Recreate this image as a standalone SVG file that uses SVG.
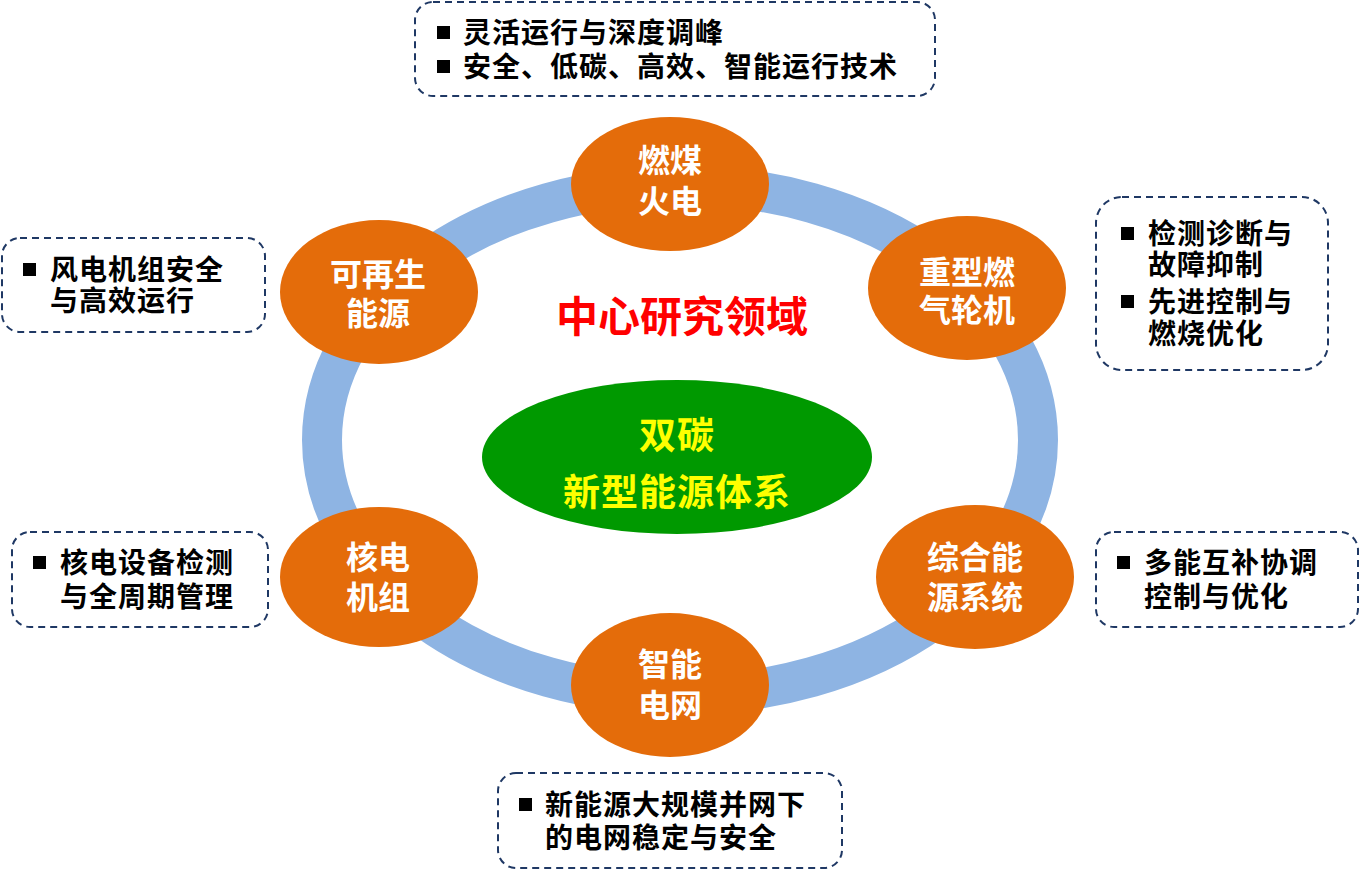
<svg xmlns="http://www.w3.org/2000/svg" width="1360" height="874" viewBox="0 0 1360 874">
<style>
.orb{fill:#E46C0A}
.ot{fill:#fff;font-family:"Noto Sans CJK SC","Noto Sans",sans-serif;font-weight:bold;font-size:32px;text-anchor:middle}
.box{fill:#fff;stroke:#1F3864;stroke-width:2;stroke-dasharray:7,5}
.bt{fill:#000;font-family:"Noto Sans CJK SC","Noto Sans",sans-serif;font-weight:bold;font-size:28px;letter-spacing:1px}
.bul{fill:#000}
.ct{fill:#FFFF00;font-family:"Noto Sans CJK SC","Noto Sans",sans-serif;font-weight:bold;font-size:37px;letter-spacing:1px;text-anchor:middle}
</style>
<rect width="1360" height="874" fill="#fff"/>
<g id="connectors">
<ellipse cx="680" cy="440" rx="358" ry="255" fill="none" stroke="#8EB4E3" stroke-width="40"/>
</g>
<g id="center">
<ellipse cx="677" cy="457" rx="195" ry="77" fill="#009900"/>
<text class="ct" x="677" y="449">双碳</text>
<text class="ct" x="677" y="506">新型能源体系</text>
</g>
<g id="title">
<text x="682" y="332" fill="#FF0000" font-family="Noto Sans CJK SC,sans-serif" font-weight="bold" font-size="42" text-anchor="middle">中心研究领域</text>
</g>
<g id="coal">
<ellipse class="orb" cx="670" cy="184" rx="99" ry="67"/>
<text class="ot" x="670" y="172">燃煤</text>
<text class="ot" x="670" y="213">火电</text>
</g>
<g id="gas">
<ellipse class="orb" cx="967" cy="288" rx="99" ry="72"/>
<text class="ot" x="967" y="284">重型燃</text>
<text class="ot" x="967" y="322">气轮机</text>
</g>
<g id="renew">
<ellipse class="orb" cx="379" cy="292" rx="99" ry="72"/>
<text class="ot" x="378" y="286">可再生</text>
<text class="ot" x="378" y="325">能源</text>
</g>
<g id="nuclear">
<ellipse class="orb" cx="379" cy="577" rx="99" ry="70"/>
<text class="ot" x="378" y="569">核电</text>
<text class="ot" x="378" y="609">机组</text>
</g>
<g id="integrated">
<ellipse class="orb" cx="975" cy="577" rx="99" ry="72"/>
<text class="ot" x="975" y="569">综合能</text>
<text class="ot" x="975" y="609">源系统</text>
</g>
<g id="grid">
<ellipse class="orb" cx="670" cy="685" rx="99" ry="72"/>
<text class="ot" x="670" y="676">智能</text>
<text class="ot" x="670" y="717">电网</text>
</g>
<g id="note-coal">
<rect class="box" x="415" y="2" width="520" height="94" rx="18"/>
<rect class="bul" x="437" y="26" width="13" height="13"/>
<text class="bt" x="463" y="43">灵活运行与深度调峰</text>
<rect class="bul" x="437" y="60" width="13" height="13"/>
<text class="bt" x="463" y="77">安全、低碳、高效、智能运行技术</text>
</g>
<g id="note-renew">
<rect class="box" x="2" y="238" width="263" height="94" rx="18"/>
<rect class="bul" x="23" y="263" width="13" height="13"/>
<text class="bt" x="50" y="280">风电机组安全</text>
<text class="bt" x="50" y="311">与高效运行</text>
</g>
<g id="note-gas">
<rect class="box" x="1096" y="197" width="232" height="173" rx="26"/>
<rect class="bul" x="1121" y="227" width="13" height="13"/>
<text class="bt" x="1148" y="244">检测诊断与</text>
<text class="bt" x="1148" y="275">故障抑制</text>
<rect class="bul" x="1121" y="295" width="13" height="13"/>
<text class="bt" x="1148" y="312">先进控制与</text>
<text class="bt" x="1148" y="344">燃烧优化</text>
</g>
<g id="note-nuclear">
<rect class="box" x="12" y="532" width="256" height="95" rx="18"/>
<rect class="bul" x="33" y="556" width="13" height="13"/>
<text class="bt" x="60" y="573">核电设备检测</text>
<text class="bt" x="60" y="607">与全周期管理</text>
</g>
<g id="note-integrated">
<rect class="box" x="1096" y="532" width="262" height="95" rx="18"/>
<rect class="bul" x="1117" y="556" width="13" height="13"/>
<text class="bt" x="1144" y="573">多能互补协调</text>
<text class="bt" x="1144" y="607">控制与优化</text>
</g>
<g id="note-grid">
<rect class="box" x="498" y="773" width="344" height="95" rx="18"/>
<rect class="bul" x="519" y="798" width="13" height="13"/>
<text class="bt" x="545" y="815">新能源大规模并网下</text>
<text class="bt" x="545" y="848">的电网稳定与安全</text>
</g>
</svg>
